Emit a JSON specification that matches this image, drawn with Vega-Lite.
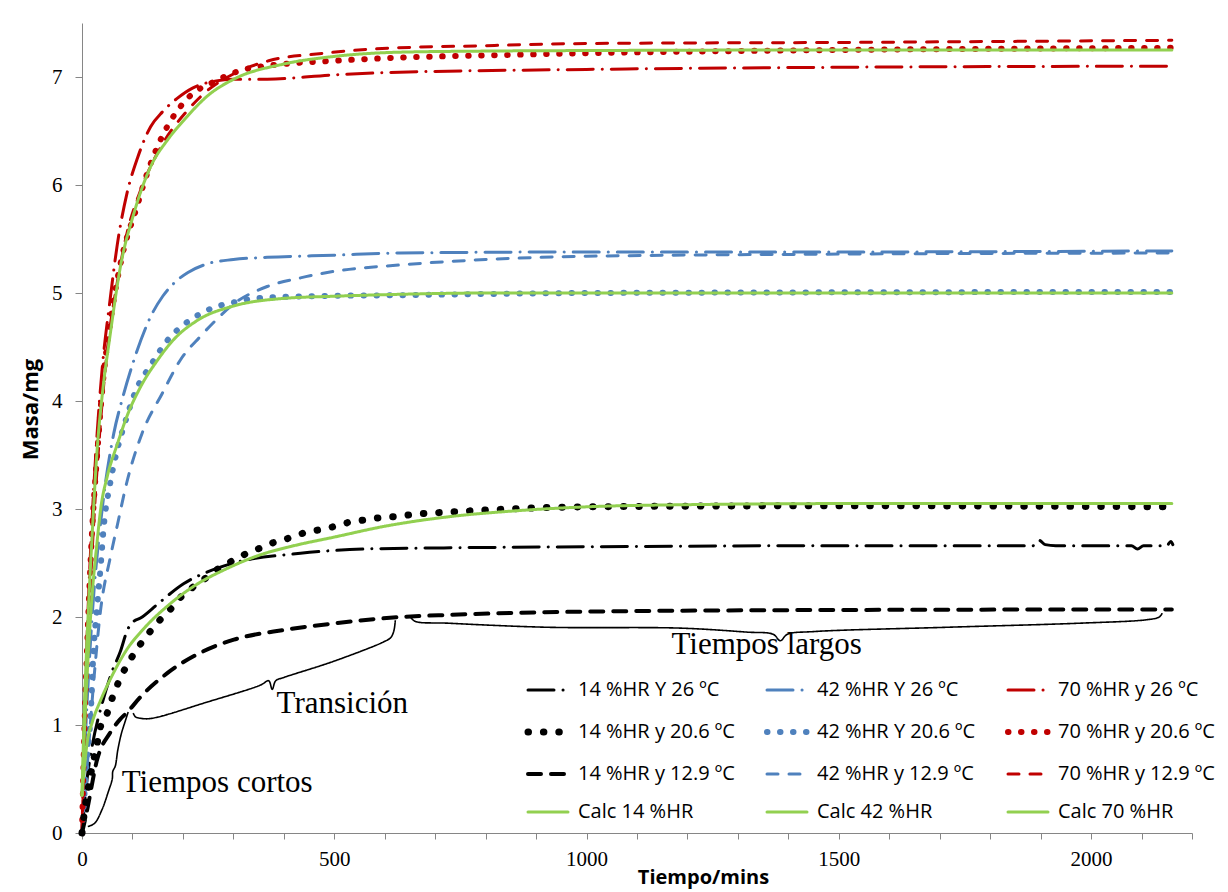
{
  "$schema": "https://vega.github.io/schema/vega-lite/v6.json",
  "width": 1110,
  "height": 810,
  "autosize": "none",
  "padding": {"left": 82, "top": 23, "right": 36, "bottom": 59},
  "background": "white",
  "config": {
    "view": {"stroke": null},
    "legend": {
      "orient": "none", "legendX": 456, "legendY": 657, "columns": 3, "direction": "horizontal",
      "symbolType": "stroke", "symbolSize": 1600, "labelFont": "Open Sans", "labelFontSize": 20,
      "labelColor": "black", "labelOffset": 20, "rowPadding": 18, "columnPadding": 20, "padding": 0,
      "labelLimit": 300, "symbolLimit": 20
    }
  },
  "datasets": {
    "series": [
      {"s":"14 %HR Y 26 ºC","t":0,"m":0},{"s":"14 %HR Y 26 ºC","t":10,"m":0.5},{"s":"14 %HR Y 26 ºC","t":20,"m":0.8},{"s":"14 %HR Y 26 ºC","t":40,"m":1.2},{"s":"14 %HR Y 26 ºC","t":60,"m":1.5},{"s":"14 %HR Y 26 ºC","t":76,"m":1.68},{"s":"14 %HR Y 26 ºC","t":90,"m":1.88},{"s":"14 %HR Y 26 ºC","t":100,"m":1.95},{"s":"14 %HR Y 26 ºC","t":116,"m":1.99},{"s":"14 %HR Y 26 ºC","t":150,"m":2.12},{"s":"14 %HR Y 26 ºC","t":202,"m":2.31},{"s":"14 %HR Y 26 ºC","t":250,"m":2.42},{"s":"14 %HR Y 26 ºC","t":301,"m":2.5},{"s":"14 %HR Y 26 ºC","t":433,"m":2.59},{"s":"14 %HR Y 26 ºC","t":565,"m":2.63},{"s":"14 %HR Y 26 ºC","t":717,"m":2.64},{"s":"14 %HR Y 26 ºC","t":1000,"m":2.65},{"s":"14 %HR Y 26 ºC","t":1500,"m":2.66},{"s":"14 %HR Y 26 ºC","t":1885,"m":2.66},{"s":"14 %HR Y 26 ºC","t":1897,"m":2.71},{"s":"14 %HR Y 26 ºC","t":1909,"m":2.67},{"s":"14 %HR Y 26 ºC","t":1930,"m":2.66},{"s":"14 %HR Y 26 ºC","t":2080,"m":2.66},{"s":"14 %HR Y 26 ºC","t":2092,"m":2.63},{"s":"14 %HR Y 26 ºC","t":2104,"m":2.66},{"s":"14 %HR Y 26 ºC","t":2150,"m":2.66},{"s":"14 %HR Y 26 ºC","t":2158,"m":2.7},{"s":"14 %HR Y 26 ºC","t":2162,"m":2.67},
      {"s":"42 %HR Y 26 ºC","t":0,"m":0},{"s":"42 %HR Y 26 ºC","t":5,"m":0.7},{"s":"42 %HR Y 26 ºC","t":10,"m":1.2},{"s":"42 %HR Y 26 ºC","t":20,"m":2.0},{"s":"42 %HR Y 26 ºC","t":40,"m":3.0},{"s":"42 %HR Y 26 ºC","t":63,"m":3.7},{"s":"42 %HR Y 26 ºC","t":80,"m":4.02},{"s":"42 %HR Y 26 ºC","t":103,"m":4.38},{"s":"42 %HR Y 26 ºC","t":136,"m":4.78},{"s":"42 %HR Y 26 ºC","t":160,"m":4.97},{"s":"42 %HR Y 26 ºC","t":182,"m":5.09},{"s":"42 %HR Y 26 ºC","t":210,"m":5.19},{"s":"42 %HR Y 26 ºC","t":248,"m":5.27},{"s":"42 %HR Y 26 ºC","t":300,"m":5.31},{"s":"42 %HR Y 26 ºC","t":367,"m":5.33},{"s":"42 %HR Y 26 ºC","t":499,"m":5.35},{"s":"42 %HR Y 26 ºC","t":631,"m":5.37},{"s":"42 %HR Y 26 ºC","t":1000,"m":5.38},{"s":"42 %HR Y 26 ºC","t":1500,"m":5.38},{"s":"42 %HR Y 26 ºC","t":2160,"m":5.39},
      {"s":"70 %HR y 26 ºC","t":0,"m":0},{"s":"70 %HR y 26 ºC","t":5,"m":1.0},{"s":"70 %HR y 26 ºC","t":10,"m":1.8},{"s":"70 %HR y 26 ºC","t":20,"m":2.9},{"s":"70 %HR y 26 ºC","t":30,"m":3.7},{"s":"70 %HR y 26 ºC","t":40,"m":4.3},{"s":"70 %HR y 26 ºC","t":56,"m":4.95},{"s":"70 %HR y 26 ºC","t":70,"m":5.45},{"s":"70 %HR y 26 ºC","t":89,"m":5.92},{"s":"70 %HR y 26 ºC","t":110,"m":6.25},{"s":"70 %HR y 26 ºC","t":136,"m":6.54},{"s":"70 %HR y 26 ºC","t":160,"m":6.68},{"s":"70 %HR y 26 ºC","t":188,"m":6.8},{"s":"70 %HR y 26 ºC","t":220,"m":6.9},{"s":"70 %HR y 26 ºC","t":261,"m":6.96},{"s":"70 %HR y 26 ºC","t":300,"m":6.98},{"s":"70 %HR y 26 ºC","t":367,"m":6.98},{"s":"70 %HR y 26 ºC","t":499,"m":7.02},{"s":"70 %HR y 26 ºC","t":600,"m":7.04},{"s":"70 %HR y 26 ºC","t":1000,"m":7.07},{"s":"70 %HR y 26 ºC","t":1500,"m":7.09},{"s":"70 %HR y 26 ºC","t":2160,"m":7.1},
      {"s":"14 %HR y 20.6 ºC","t":0,"m":0},{"s":"14 %HR y 20.6 ºC","t":5,"m":0.2},{"s":"14 %HR y 20.6 ºC","t":14,"m":0.46},{"s":"14 %HR y 20.6 ºC","t":30,"m":0.83},{"s":"14 %HR y 20.6 ºC","t":37,"m":0.99},{"s":"14 %HR y 20.6 ºC","t":50,"m":1.11},{"s":"14 %HR y 20.6 ºC","t":60,"m":1.25},{"s":"14 %HR y 20.6 ºC","t":70,"m":1.37},{"s":"14 %HR y 20.6 ºC","t":84,"m":1.51},{"s":"14 %HR y 20.6 ºC","t":99,"m":1.63},{"s":"14 %HR y 20.6 ºC","t":116,"m":1.75},{"s":"14 %HR y 20.6 ºC","t":134,"m":1.86},{"s":"14 %HR y 20.6 ºC","t":154,"m":1.97},{"s":"14 %HR y 20.6 ºC","t":175,"m":2.07},{"s":"14 %HR y 20.6 ºC","t":195,"m":2.18},{"s":"14 %HR y 20.6 ºC","t":221,"m":2.28},{"s":"14 %HR y 20.6 ºC","t":248,"m":2.37},{"s":"14 %HR y 20.6 ºC","t":271,"m":2.45},{"s":"14 %HR y 20.6 ºC","t":298,"m":2.52},{"s":"14 %HR y 20.6 ºC","t":327,"m":2.59},{"s":"14 %HR y 20.6 ºC","t":354,"m":2.64},{"s":"14 %HR y 20.6 ºC","t":380,"m":2.69},{"s":"14 %HR y 20.6 ºC","t":410,"m":2.73},{"s":"14 %HR y 20.6 ºC","t":441,"m":2.78},{"s":"14 %HR y 20.6 ºC","t":473,"m":2.81},{"s":"14 %HR y 20.6 ºC","t":502,"m":2.84},{"s":"14 %HR y 20.6 ºC","t":532,"m":2.88},{"s":"14 %HR y 20.6 ºC","t":562,"m":2.9},{"s":"14 %HR y 20.6 ºC","t":592,"m":2.92},{"s":"14 %HR y 20.6 ºC","t":621,"m":2.93},{"s":"14 %HR y 20.6 ºC","t":658,"m":2.95},{"s":"14 %HR y 20.6 ºC","t":720,"m":2.97},{"s":"14 %HR y 20.6 ºC","t":800,"m":2.99},{"s":"14 %HR y 20.6 ºC","t":900,"m":3.01},{"s":"14 %HR y 20.6 ºC","t":1000,"m":3.02},{"s":"14 %HR y 20.6 ºC","t":1500,"m":3.03},{"s":"14 %HR y 20.6 ºC","t":2160,"m":3.02},
      {"s":"42 %HR Y 20.6 ºC","t":0,"m":0},{"s":"42 %HR Y 20.6 ºC","t":10,"m":0.7},{"s":"42 %HR Y 20.6 ºC","t":17,"m":1.08},{"s":"42 %HR Y 20.6 ºC","t":23,"m":1.7},{"s":"42 %HR Y 20.6 ºC","t":30,"m":2.1},{"s":"42 %HR Y 20.6 ºC","t":37,"m":2.47},{"s":"42 %HR Y 20.6 ºC","t":43,"m":2.83},{"s":"42 %HR Y 20.6 ºC","t":56,"m":3.24},{"s":"42 %HR Y 20.6 ºC","t":70,"m":3.55},{"s":"42 %HR Y 20.6 ºC","t":86,"m":3.81},{"s":"42 %HR Y 20.6 ºC","t":106,"m":4.09},{"s":"42 %HR Y 20.6 ºC","t":136,"m":4.33},{"s":"42 %HR Y 20.6 ºC","t":169,"m":4.56},{"s":"42 %HR Y 20.6 ºC","t":192,"m":4.67},{"s":"42 %HR Y 20.6 ºC","t":218,"m":4.76},{"s":"42 %HR Y 20.6 ºC","t":248,"m":4.84},{"s":"42 %HR Y 20.6 ºC","t":278,"m":4.89},{"s":"42 %HR Y 20.6 ºC","t":308,"m":4.92},{"s":"42 %HR Y 20.6 ºC","t":341,"m":4.95},{"s":"42 %HR Y 20.6 ºC","t":450,"m":4.97},{"s":"42 %HR Y 20.6 ºC","t":631,"m":4.98},{"s":"42 %HR Y 20.6 ºC","t":1000,"m":5.0},{"s":"42 %HR Y 20.6 ºC","t":2160,"m":5.01},
      {"s":"70 %HR y 20.6 ºC","t":0,"m":0},{"s":"70 %HR y 20.6 ºC","t":5,"m":1.0},{"s":"70 %HR y 20.6 ºC","t":10,"m":1.7},{"s":"70 %HR y 20.6 ºC","t":20,"m":2.8},{"s":"70 %HR y 20.6 ºC","t":30,"m":3.5},{"s":"70 %HR y 20.6 ºC","t":40,"m":4.1},{"s":"70 %HR y 20.6 ºC","t":60,"m":4.85},{"s":"70 %HR y 20.6 ºC","t":80,"m":5.35},{"s":"70 %HR y 20.6 ºC","t":109,"m":5.8},{"s":"70 %HR y 20.6 ºC","t":123,"m":6.02},{"s":"70 %HR y 20.6 ºC","t":142,"m":6.27},{"s":"70 %HR y 20.6 ºC","t":162,"m":6.48},{"s":"70 %HR y 20.6 ºC","t":179,"m":6.62},{"s":"70 %HR y 20.6 ºC","t":211,"m":6.81},{"s":"70 %HR y 20.6 ºC","t":268,"m":6.97},{"s":"70 %HR y 20.6 ºC","t":314,"m":7.06},{"s":"70 %HR y 20.6 ºC","t":400,"m":7.12},{"s":"70 %HR y 20.6 ºC","t":499,"m":7.15},{"s":"70 %HR y 20.6 ºC","t":631,"m":7.18},{"s":"70 %HR y 20.6 ºC","t":800,"m":7.2},{"s":"70 %HR y 20.6 ºC","t":1000,"m":7.22},{"s":"70 %HR y 20.6 ºC","t":1500,"m":7.25},{"s":"70 %HR y 20.6 ºC","t":2160,"m":7.27},
      {"s":"14 %HR y 12.9 ºC","t":0,"m":0},{"s":"14 %HR y 12.9 ºC","t":10,"m":0.21},{"s":"14 %HR y 12.9 ºC","t":30,"m":0.68},{"s":"14 %HR y 12.9 ºC","t":56,"m":0.93},{"s":"14 %HR y 12.9 ºC","t":75,"m":1.05},{"s":"14 %HR y 12.9 ºC","t":90,"m":1.12},{"s":"14 %HR y 12.9 ºC","t":116,"m":1.26},{"s":"14 %HR y 12.9 ºC","t":169,"m":1.48},{"s":"14 %HR y 12.9 ºC","t":235,"m":1.67},{"s":"14 %HR y 12.9 ºC","t":301,"m":1.79},{"s":"14 %HR y 12.9 ºC","t":400,"m":1.88},{"s":"14 %HR y 12.9 ºC","t":499,"m":1.94},{"s":"14 %HR y 12.9 ºC","t":631,"m":2.0},{"s":"14 %HR y 12.9 ºC","t":730,"m":2.02},{"s":"14 %HR y 12.9 ºC","t":1000,"m":2.05},{"s":"14 %HR y 12.9 ºC","t":1500,"m":2.065},{"s":"14 %HR y 12.9 ºC","t":2160,"m":2.07},
      {"s":"42 %HR y 12.9 ºC","t":0,"m":0},{"s":"42 %HR y 12.9 ºC","t":10,"m":0.6},{"s":"42 %HR y 12.9 ºC","t":23,"m":1.39},{"s":"42 %HR y 12.9 ºC","t":37,"m":2.07},{"s":"42 %HR y 12.9 ºC","t":56,"m":2.55},{"s":"42 %HR y 12.9 ºC","t":70,"m":2.85},{"s":"42 %HR y 12.9 ºC","t":89,"m":3.25},{"s":"42 %HR y 12.9 ºC","t":119,"m":3.7},{"s":"42 %HR y 12.9 ºC","t":159,"m":4.07},{"s":"42 %HR y 12.9 ºC","t":195,"m":4.38},{"s":"42 %HR y 12.9 ºC","t":235,"m":4.6},{"s":"42 %HR y 12.9 ºC","t":270,"m":4.77},{"s":"42 %HR y 12.9 ºC","t":301,"m":4.9},{"s":"42 %HR y 12.9 ºC","t":367,"m":5.06},{"s":"42 %HR y 12.9 ºC","t":433,"m":5.14},{"s":"42 %HR y 12.9 ºC","t":499,"m":5.2},{"s":"42 %HR y 12.9 ºC","t":631,"m":5.26},{"s":"42 %HR y 12.9 ºC","t":800,"m":5.31},{"s":"42 %HR y 12.9 ºC","t":1000,"m":5.34},{"s":"42 %HR y 12.9 ºC","t":1500,"m":5.36},{"s":"42 %HR y 12.9 ºC","t":2160,"m":5.37},
      {"s":"70 %HR y 12.9 ºC","t":0,"m":0},{"s":"70 %HR y 12.9 ºC","t":10,"m":1.6},{"s":"70 %HR y 12.9 ºC","t":20,"m":2.6},{"s":"70 %HR y 12.9 ºC","t":35,"m":3.7},{"s":"70 %HR y 12.9 ºC","t":50,"m":4.47},{"s":"70 %HR y 12.9 ºC","t":70,"m":5.1},{"s":"70 %HR y 12.9 ºC","t":89,"m":5.55},{"s":"70 %HR y 12.9 ºC","t":116,"m":5.95},{"s":"70 %HR y 12.9 ºC","t":156,"m":6.35},{"s":"70 %HR y 12.9 ºC","t":209,"m":6.69},{"s":"70 %HR y 12.9 ºC","t":250,"m":6.88},{"s":"70 %HR y 12.9 ºC","t":301,"m":7.03},{"s":"70 %HR y 12.9 ºC","t":370,"m":7.15},{"s":"70 %HR y 12.9 ºC","t":480,"m":7.22},{"s":"70 %HR y 12.9 ºC","t":580,"m":7.26},{"s":"70 %HR y 12.9 ºC","t":800,"m":7.29},{"s":"70 %HR y 12.9 ºC","t":1000,"m":7.31},{"s":"70 %HR y 12.9 ºC","t":1500,"m":7.32},{"s":"70 %HR y 12.9 ºC","t":2160,"m":7.34},
      {"s":"Calc 14 %HR","t":0,"m":0.35},{"s":"Calc 14 %HR","t":5,"m":0.62},{"s":"Calc 14 %HR","t":10,"m":0.83},{"s":"Calc 14 %HR","t":20,"m":1.02},{"s":"Calc 14 %HR","t":37,"m":1.23},{"s":"Calc 14 %HR","t":60,"m":1.46},{"s":"Calc 14 %HR","t":89,"m":1.7},{"s":"Calc 14 %HR","t":120,"m":1.88},{"s":"Calc 14 %HR","t":169,"m":2.1},{"s":"Calc 14 %HR","t":220,"m":2.28},{"s":"Calc 14 %HR","t":288,"m":2.45},{"s":"Calc 14 %HR","t":350,"m":2.57},{"s":"Calc 14 %HR","t":420,"m":2.66},{"s":"Calc 14 %HR","t":500,"m":2.74},{"s":"Calc 14 %HR","t":600,"m":2.84},{"s":"Calc 14 %HR","t":730,"m":2.93},{"s":"Calc 14 %HR","t":850,"m":2.98},{"s":"Calc 14 %HR","t":1000,"m":3.02},{"s":"Calc 14 %HR","t":1200,"m":3.04},{"s":"Calc 14 %HR","t":1500,"m":3.05},{"s":"Calc 14 %HR","t":2160,"m":3.05},
      {"s":"Calc 42 %HR","t":0,"m":0.35},{"s":"Calc 42 %HR","t":5,"m":0.95},{"s":"Calc 42 %HR","t":10,"m":1.45},{"s":"Calc 42 %HR","t":20,"m":2.2},{"s":"Calc 42 %HR","t":30,"m":2.7},{"s":"Calc 42 %HR","t":37,"m":3.0},{"s":"Calc 42 %HR","t":50,"m":3.3},{"s":"Calc 42 %HR","t":70,"m":3.6},{"s":"Calc 42 %HR","t":90,"m":3.87},{"s":"Calc 42 %HR","t":116,"m":4.13},{"s":"Calc 42 %HR","t":150,"m":4.38},{"s":"Calc 42 %HR","t":182,"m":4.57},{"s":"Calc 42 %HR","t":230,"m":4.75},{"s":"Calc 42 %HR","t":301,"m":4.88},{"s":"Calc 42 %HR","t":400,"m":4.95},{"s":"Calc 42 %HR","t":500,"m":4.97},{"s":"Calc 42 %HR","t":650,"m":4.99},{"s":"Calc 42 %HR","t":800,"m":5.0},{"s":"Calc 42 %HR","t":2160,"m":5.0},
      {"s":"Calc 70 %HR","t":0,"m":0.35},{"s":"Calc 70 %HR","t":5,"m":1.2},{"s":"Calc 70 %HR","t":10,"m":1.8},{"s":"Calc 70 %HR","t":15,"m":2.3},{"s":"Calc 70 %HR","t":20,"m":2.75},{"s":"Calc 70 %HR","t":30,"m":3.55},{"s":"Calc 70 %HR","t":40,"m":4.05},{"s":"Calc 70 %HR","t":56,"m":4.62},{"s":"Calc 70 %HR","t":76,"m":5.24},{"s":"Calc 70 %HR","t":103,"m":5.74},{"s":"Calc 70 %HR","t":136,"m":6.17},{"s":"Calc 70 %HR","t":170,"m":6.42},{"s":"Calc 70 %HR","t":202,"m":6.6},{"s":"Calc 70 %HR","t":250,"m":6.83},{"s":"Calc 70 %HR","t":301,"m":6.98},{"s":"Calc 70 %HR","t":400,"m":7.12},{"s":"Calc 70 %HR","t":499,"m":7.19},{"s":"Calc 70 %HR","t":631,"m":7.23},{"s":"Calc 70 %HR","t":800,"m":7.24},{"s":"Calc 70 %HR","t":1000,"m":7.245},{"s":"Calc 70 %HR","t":1500,"m":7.25},{"s":"Calc 70 %HR","t":2160,"m":7.25}
    ],
    "braces": [
      {"b":1,"i":0,"t":11.5,"m":0.06},{"b":1,"i":1,"t":25,"m":0.09},{"b":1,"i":2,"t":40,"m":0.22},{"b":1,"i":3,"t":52,"m":0.38},{"b":1,"i":4,"t":60,"m":0.5},{"b":1,"i":5,"t":61,"m":0.57},{"b":1,"i":6,"t":66,"m":0.62},{"b":1,"i":7,"t":71,"m":0.77},{"b":1,"i":8,"t":78,"m":0.92},{"b":1,"i":9,"t":86,"m":1.04},{"b":1,"i":10,"t":91.5,"m":1.12},
      {"b":2,"i":0,"t":101.5,"m":1.11},{"b":2,"i":1,"t":106,"m":1.075},{"b":2,"i":2,"t":116,"m":1.062},{"b":2,"i":3,"t":136,"m":1.06},{"b":2,"i":4,"t":250,"m":1.215},{"b":2,"i":5,"t":354,"m":1.37},{"b":2,"i":6,"t":370,"m":1.41},{"b":2,"i":7,"t":377,"m":1.33},{"b":2,"i":8,"t":384,"m":1.41},{"b":2,"i":9,"t":400,"m":1.44},{"b":2,"i":10,"t":499,"m":1.59},{"b":2,"i":11,"t":598,"m":1.77},{"b":2,"i":12,"t":612,"m":1.81},{"b":2,"i":13,"t":618,"m":1.87},{"b":2,"i":14,"t":621,"m":1.97},
      {"b":3,"i":0,"t":651,"m":2.0},{"b":3,"i":1,"t":660,"m":1.96},{"b":3,"i":2,"t":724,"m":1.943},{"b":3,"i":3,"t":922,"m":1.905},{"b":3,"i":4,"t":1186,"m":1.897},{"b":3,"i":5,"t":1318,"m":1.86},{"b":3,"i":6,"t":1370,"m":1.84},{"b":3,"i":7,"t":1384,"m":1.78},{"b":3,"i":8,"t":1398,"m":1.84},{"b":3,"i":9,"t":1450,"m":1.865},{"b":3,"i":10,"t":1715,"m":1.905},{"b":3,"i":11,"t":1979,"m":1.943},{"b":3,"i":12,"t":2111,"m":1.975},{"b":3,"i":13,"t":2135,"m":2.0},{"b":3,"i":14,"t":2141,"m":2.035}
    ],
    "labels": [
      {"label":"Tiempos cortos","t":268,"m":0.465},
      {"label":"Transición","t":516,"m":1.19},
      {"label":"Tiempos largos","t":1357,"m":1.74}
    ]
  },
  "encoding": {
    "x": {"field":"t","type":"quantitative","scale":{"domain":[0,2200],"nice":false,"zero":false},
      "axis":{"values":[0,100,200,300,400,500,600,700,800,900,1000,1100,1200,1300,1400,1500,1600,1700,1800,1900,2000,2100,2200],
        "format":"d","labelExpr":"datum.value % 500 === 0 ? datum.label : ''","grid":false,
        "domainColor":"#868686","tickColor":"#868686","tickSize":6,"labelPadding":9,"labelFont":"Liberation Serif","labelFontSize":21,"labelColor":"black",
        "labelOverlap":false,"labelFlush":false,
        "title":"Tiempo/mins","titleFont":"Open Sans","titleFontSize":20,"titleFontWeight":"bold","titleColor":"black","titleX":621,"titleY":44,"titleBaseline":"middle"}},
    "y": {"field":"m","type":"quantitative","scale":{"domain":[0,7.5],"nice":false},
      "axis":{"values":[0,0.5,1,1.5,2,2.5,3,3.5,4,4.5,5,5.5,6,6.5,7,7.5],
        "format":"d","labelExpr":"datum.value % 1 === 0 ? datum.label : ''","grid":false,
        "domainColor":"#868686","tickColor":"#868686","tickSize":7,"labelPadding":13,"labelFont":"Liberation Serif","labelFontSize":21,"labelColor":"black",
        "labelOverlap":false,"labelFlush":false,
        "title":"Masa/mg","titleFont":"Open Sans","titleFontSize":22,"titleFontWeight":"bold","titleColor":"black","titleX":-52,"titleY":386,"titleBaseline":"middle"}},
    "color": {"field":"s","type":"nominal",
      "legend":{"title":null,"encode":{"symbols":{"update":{"strokeCap":{"value":"round"},
        "strokeWidth":{"signal":"datum.value == '14 %HR y 20.6 ºC' ? 7 : (datum.value == '42 %HR Y 20.6 ºC' || datum.value == '70 %HR y 20.6 ºC') ? 6 : datum.value == '14 %HR y 12.9 ºC' ? 4 : 3"}}}}},
      "scale":{"domain":["14 %HR Y 26 ºC","42 %HR Y 26 ºC","70 %HR y 26 ºC","14 %HR y 20.6 ºC","42 %HR Y 20.6 ºC","70 %HR y 20.6 ºC","14 %HR y 12.9 ºC","42 %HR y 12.9 ºC","70 %HR y 12.9 ºC","Calc 14 %HR","Calc 42 %HR","Calc 70 %HR"],
        "range":["#000000","#4F81BD","#C00000","#000000","#4F81BD","#C00000","#000000","#4F81BD","#C00000","#92D050","#92D050","#92D050"]}},
    "strokeDash": {"field":"s","type":"nominal","legend":{"title":null},
      "scale":{"domain":["14 %HR Y 26 ºC","42 %HR Y 26 ºC","70 %HR y 26 ºC","14 %HR y 20.6 ºC","42 %HR Y 20.6 ºC","70 %HR y 20.6 ºC","14 %HR y 12.9 ºC","42 %HR y 12.9 ºC","70 %HR y 12.9 ºC","Calc 14 %HR","Calc 42 %HR","Calc 70 %HR"],
        "range":[[26,9,0.1,9],[26,9,0.1,9],[26,9,0.1,9],[0.5,14.9],[0.5,12.5],[0.5,12.5],[13,10],[11,11],[11,11],[1,0],[1,0],[1,0]]}}
  },
  "layer": [
    {
      "data": {"name":"series"},
      "transform": [{"filter": {"field":"s","oneOf":["14 %HR Y 26 ºC","42 %HR Y 26 ºC","70 %HR y 26 ºC","42 %HR y 12.9 ºC","70 %HR y 12.9 ºC"]}}],
      "mark": {"type":"line","strokeCap":"round","strokeJoin":"round","interpolate":"monotone","strokeWidth":3}
    },
    {
      "data": {"name":"series"},
      "transform": [{"filter": {"field":"s","equal":"14 %HR y 12.9 ºC"}}],
      "mark": {"type":"line","strokeCap":"round","strokeJoin":"round","interpolate":"monotone","strokeWidth":4}
    },
    {
      "data": {"name":"series"},
      "transform": [{"filter": {"field":"s","oneOf":["42 %HR Y 20.6 ºC","70 %HR y 20.6 ºC"]}}],
      "mark": {"type":"line","strokeCap":"round","strokeJoin":"round","interpolate":"monotone","strokeWidth":6}
    },
    {
      "data": {"name":"series"},
      "transform": [{"filter": {"field":"s","equal":"14 %HR y 20.6 ºC"}}],
      "mark": {"type":"line","strokeCap":"round","strokeJoin":"round","interpolate":"monotone","strokeWidth":7}
    },
    {
      "data": {"name":"series"},
      "transform": [{"filter": {"field":"s","oneOf":["Calc 14 %HR","Calc 42 %HR","Calc 70 %HR"]}}],
      "mark": {"type":"line","strokeCap":"round","strokeJoin":"round","interpolate":"monotone","strokeWidth":3}
    },
    {
      "data": {"name":"braces"},
      "mark": {"type":"line","color":"black","strokeWidth":1.6,"interpolate":"catmull-rom"},
      "encoding": {"color":{"value":"black"},"strokeDash":{"value":[1,0]},"detail":{"field":"b","type":"nominal"},"order":{"field":"i","type":"quantitative"}}
    },
    {
      "data": {"name":"labels"},
      "mark": {"type":"text","font":"Liberation Serif","fontSize":31,"align":"center","baseline":"middle","color":"black"},
      "encoding": {"color":{"value":"black"},"strokeDash":{"value":[1,0]},"text":{"field":"label","type":"nominal"}}
    }
  ]
}
